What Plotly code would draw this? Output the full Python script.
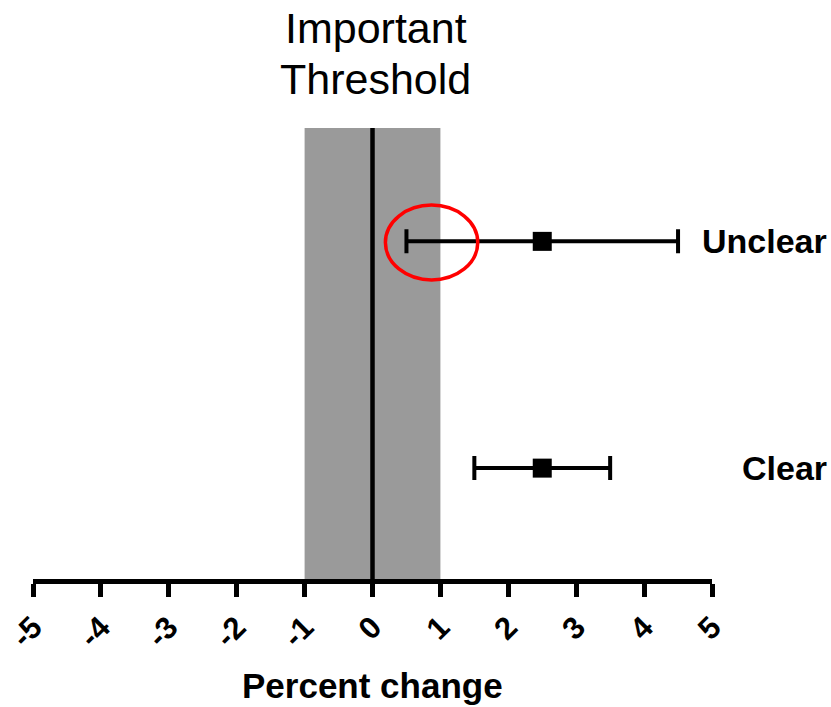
import plotly.graph_objects as go

# Data
categories = ["Unclear", "Clear"]
y_pos = [2, 1]
estimates = [2.5, 2.5]
lower = [0.5, 1.5]
upper = [4.5, 3.5]
threshold_low, threshold_high = -1, 1
tick_vals = list(range(-5, 6))
tick_text = [str(v) for v in tick_vals]
highlight_x = [0.19, 1.55]
highlight_y = [1.83, 2.16]

FONT = "Liberation Sans, Arial, sans-serif"

err_plus = [u - e for u, e in zip(upper, estimates)]
err_minus = [e - l for e, l in zip(estimates, lower)]

fig = go.Figure()
fig.add_trace(go.Scatter(
    x=estimates, y=y_pos, mode="markers",
    marker=dict(symbol="square", size=19, color="black"),
    error_x=dict(type="data", symmetric=False, array=err_plus, arrayminus=err_minus,
                 thickness=4, width=12, color="black"),
    showlegend=False, hoverinfo="skip"
))

# threshold band
fig.add_shape(type="rect", xref="x", yref="paper", x0=threshold_low, x1=threshold_high,
              y0=0, y1=1, fillcolor="#9a9a9a", line=dict(width=0), layer="below")
fig.add_shape(type="line", xref="x", yref="paper", x0=0, x1=0, y0=0, y1=1,
              line=dict(color="black", width=4.5), layer="below")
# highlight ellipse
fig.add_shape(type="circle", xref="x", yref="y", x0=highlight_x[0], x1=highlight_x[1],
              y0=highlight_y[0], y1=highlight_y[1], line=dict(color="#ff0000", width=3.5))

for cat, yp in zip(categories, y_pos):
    fig.add_annotation(x=1.172, xref="paper", y=yp, yref="y", text="<b>%s</b>" % cat,
                       showarrow=False, xanchor="right", yanchor="middle",
                       font=dict(family=FONT, size=34, color="black"))

fig.add_annotation(x=0.05, xref="x", y=1.222, yref="paper", text="Important", showarrow=False,
                   xanchor="center", yanchor="middle", font=dict(family=FONT, size=43, color="black"))
fig.add_annotation(x=0.05, xref="x", y=1.109, yref="paper", text="Threshold", showarrow=False,
                   xanchor="center", yanchor="middle", font=dict(family=FONT, size=43, color="black"))
fig.add_annotation(x=0, xref="x", y=-0.236, yref="paper", text="<b>Percent change</b>", showarrow=False,
                   xanchor="center", yanchor="middle", font=dict(family=FONT, size=35, color="black"))

fig.update_xaxes(range=[-5, 5], tickvals=tick_vals, ticktext=["<b>%s</b>" % t for t in tick_text],
                 tickangle=-45, ticks="outside", ticklen=13, tickwidth=4.5, tickcolor="black",
                 showline=True, linewidth=4.5, linecolor="black", showgrid=False, zeroline=False,
                 tickfont=dict(family=FONT, size=31, color="black"), fixedrange=True, automargin=False)
fig.update_yaxes(range=[0.511, 2.5], visible=False, showgrid=False, zeroline=False, fixedrange=True)

fig.update_layout(width=831, height=707, margin=dict(l=33, r=119, t=128, b=128),
                  plot_bgcolor="white", paper_bgcolor="white", font=dict(family=FONT))

fig.write_html("out.html", config={"displayModeBar": False},
               post_script="document.body.style.margin='0';document.body.style.overflow='hidden';")
